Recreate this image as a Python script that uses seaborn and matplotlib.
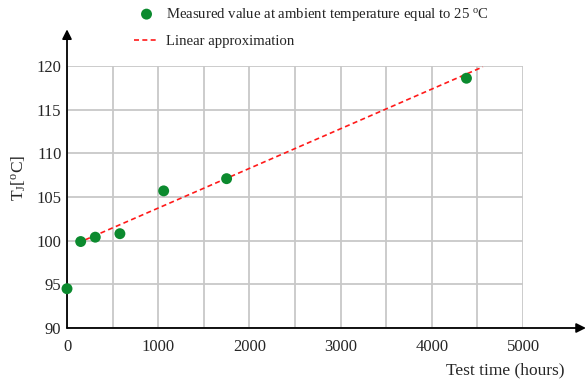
import matplotlib
matplotlib.use("Agg")
import matplotlib.pyplot as plt
import seaborn as sns
import pandas as pd

# Data
test_time = [0, 150, 310, 580, 1060, 1750, 4380]
tj_measured = [94.5, 99.9, 100.4, 100.8, 105.7, 107.1, 118.6]
fit_time = [200, 4560]
fit_tj = [100.1, 119.9]
x_ticks = [0, 1000, 2000, 3000, 4000, 5000]
y_ticks = [90, 95, 100, 105, 110, 115, 120]

sns.set_style("white")
plt.rcParams['font.family'] = ['Liberation Serif', 'DejaVu Serif']
plt.rcParams['mathtext.fontset'] = 'custom'
plt.rcParams['mathtext.rm'] = 'Liberation Serif'
plt.rcParams['mathtext.it'] = 'Liberation Serif:italic'

fig = plt.figure(figsize=(5.86, 3.85), dpi=100)
ax = fig.add_axes([67/586, (385-328)/385, 456/586, 262/385])

df_m = pd.DataFrame({"t": test_time, "T": tj_measured})
df_f = pd.DataFrame({"t": fit_time, "T": fit_tj})

sns.scatterplot(data=df_m, x="t", y="T", ax=ax, color="#0b8a2e", s=62,
                edgecolor="none", zorder=4, clip_on=False,
                label="Measured value at ambient temperature equal to 25 $^\\mathrm{o}$C")
sns.lineplot(data=df_f, x="t", y="T", ax=ax, color="#ff1a1a", linestyle=(0, (3, 2)),
             linewidth=1.2, zorder=3, clip_on=False, label="Linear approximation")

ax.set_xlim(0, 5000)
ax.set_ylim(90, 120)
ax.set_xticks(x_ticks)
ax.set_xticks(range(0, 5001, 500), minor=True)
ax.set_yticks(y_ticks)
ax.grid(True, which="both", color="#c8c8c8", linewidth=1.3)
ax.set_axisbelow(True)
for s in ax.spines.values():
    s.set_visible(False)
ax.tick_params(axis="both", which="both", length=0, labelsize=12)
ax.tick_params(axis="y", pad=4)
ax.tick_params(axis="x", pad=8)
ax.set_xlabel("")
ax.set_ylabel("")

fig.text(19/586, 1 - 178/385, "T$_\\mathrm{J}$[$^\\mathrm{o}$C]", rotation=90,
         ha="center", va="center", fontsize=12.5)

# axis arrows
ax.annotate("", xy=(1.138, 0), xytext=(0, 0), xycoords="axes fraction",
            arrowprops=dict(arrowstyle="-|>", color="black", lw=1.3,
                            mutation_scale=14, shrinkA=0, shrinkB=0), annotation_clip=False)
ax.annotate("", xy=(0, 1.14), xytext=(0, 0), xycoords="axes fraction",
            arrowprops=dict(arrowstyle="-|>", color="black", lw=1.3,
                            mutation_scale=14, shrinkA=0, shrinkB=0), annotation_clip=False)

fig.text(565/586, 1 - 370/385, "Test time (hours)", ha="right", va="center", fontsize=12.5)

ax.legend_.remove()
handles, labels = ax.get_legend_handles_labels()
fig.legend(handles, labels, loc="upper left", bbox_to_anchor=(134/586, 1 - 6/385),
           frameon=False, fontsize=10.6, handlelength=1.7, labelspacing=0.8,
           handletextpad=0.5, markerscale=1.0, borderpad=0, borderaxespad=0)

fig.savefig("out.png", dpi=100)
